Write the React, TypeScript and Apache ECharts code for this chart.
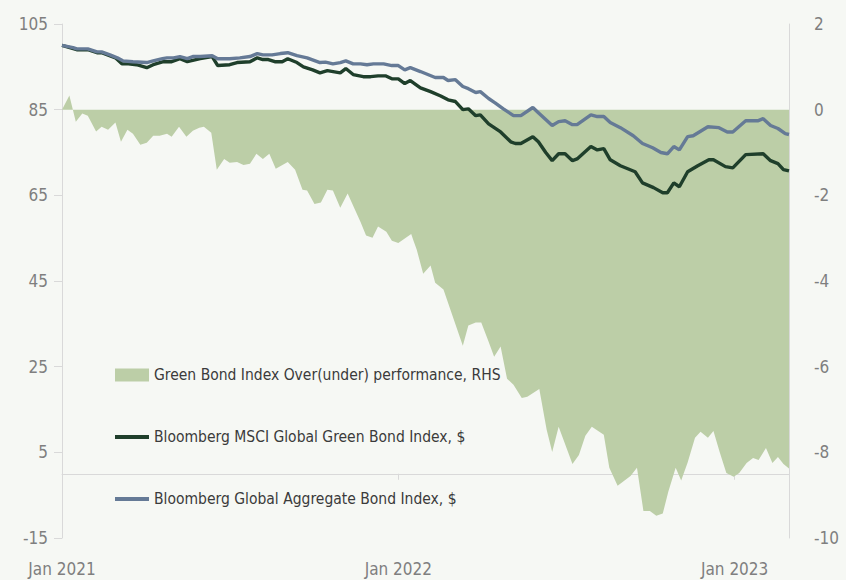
import React, { useEffect, useRef } from 'react';
import * as echarts from 'echarts';

const FONT = "'Liberation Sans Narrow', 'DejaVu Sans Condensed', 'Roboto', sans-serif";

const seriesNames = [
  'Green Bond Index Over(under) performance, RHS',
  'Bloomberg MSCI Global Green Bond Index, $',
  'Bloomberg Global Aggregate Bond Index, $',
];

const yearLabelDates = ['2021-01-01', '2022-01-01', '2023-01-01'];
const zeroTickDates = ['2022-01-01', '2023-01-01'];
const xRange = ['2021-01-01', '2023-03-01'];

// Relative performance (RHS), %
const relPerf: [string, number][] = [
  ['2021-01-01', 0], ['2021-01-09', 0.33], ['2021-01-16', -0.28], ['2021-01-23', -0.09],
  ['2021-01-29', -0.14], ['2021-02-07', -0.51], ['2021-02-13', -0.4], ['2021-02-20', -0.47],
  ['2021-02-28', -0.3], ['2021-03-06', -0.75], ['2021-03-13', -0.47], ['2021-03-19', -0.56],
  ['2021-03-27', -0.82], ['2021-04-03', -0.77], ['2021-04-10', -0.61], ['2021-04-17', -0.61],
  ['2021-04-25', -0.56], ['2021-04-30', -0.63], ['2021-05-08', -0.4], ['2021-05-16', -0.63],
  ['2021-05-23', -0.49], ['2021-05-30', -0.42], ['2021-06-04', -0.4], ['2021-06-12', -0.54],
  ['2021-06-18', -1.4], ['2021-06-26', -1.15], ['2021-07-02', -1.24], ['2021-07-10', -1.22],
  ['2021-07-17', -1.29], ['2021-07-24', -1.26], ['2021-07-31', -1.03], ['2021-08-07', -1.15],
  ['2021-08-14', -1.03], ['2021-08-21', -1.38], ['2021-09-03', -1.22], ['2021-09-11', -1.4],
  ['2021-09-19', -1.87], ['2021-09-24', -1.89], ['2021-10-02', -2.2], ['2021-10-09', -2.17],
  ['2021-10-16', -1.87], ['2021-10-22', -1.89], ['2021-10-30', -2.29], ['2021-11-07', -1.96],
  ['2021-11-21', -2.62], ['2021-11-27', -2.94], ['2021-12-04', -2.99], ['2021-12-10', -2.73],
  ['2021-12-19', -2.85], ['2021-12-25', -3.06], ['2022-01-01', -3.11], ['2022-01-08', -3.01],
  ['2022-01-15', -2.9], ['2022-01-17', -3.03], ['2022-01-21', -3.27], ['2022-01-28', -3.83],
  ['2022-02-05', -3.64], ['2022-02-10', -4.04], ['2022-02-19', -4.2], ['2022-03-12', -5.51],
  ['2022-03-18', -5.04], ['2022-03-26', -4.97], ['2022-04-01', -4.97], ['2022-04-09', -5.42],
  ['2022-04-15', -5.77], ['2022-04-22', -5.53], ['2022-04-29', -6.28], ['2022-05-06', -6.42],
  ['2022-05-15', -6.73], ['2022-05-21', -6.7], ['2022-06-03', -6.52], ['2022-06-11', -7.47],
  ['2022-06-17', -7.99], ['2022-06-24', -7.4], ['2022-07-09', -8.27], ['2022-07-16', -8.06],
  ['2022-07-23', -7.61], ['2022-07-30', -7.4], ['2022-08-12', -7.59], ['2022-08-18', -8.36],
  ['2022-08-27', -8.78], ['2022-09-10', -8.55], ['2022-09-17', -8.36], ['2022-09-24', -9.37],
  ['2022-10-01', -9.37], ['2022-10-08', -9.48], ['2022-10-15', -9.43], ['2022-10-21', -8.92],
  ['2022-10-29', -8.36], ['2022-11-04', -8.66], ['2022-11-11', -8.24], ['2022-11-19', -7.66],
  ['2022-11-25', -7.52], ['2022-12-03', -7.66], ['2022-12-09', -7.5], ['2022-12-16', -8.01],
  ['2022-12-23', -8.48], ['2022-12-31', -8.57], ['2023-01-06', -8.48], ['2023-01-14', -8.25],
  ['2023-01-21', -8.13], ['2023-01-27', -8.18], ['2023-02-04', -7.9], ['2023-02-11', -8.25],
  ['2023-02-17', -8.11], ['2023-02-23', -8.27], ['2023-03-01', -8.38],
];

// Bloomberg MSCI Global Green Bond Index, $ (LHS)
const greenBond: [string, number][] = [
  ['2021-01-01', 100], ['2021-01-17', 99.0], ['2021-01-29', 99.0], ['2021-02-08', 98.3],
  ['2021-02-13', 98.3], ['2021-02-28', 97.1], ['2021-03-07', 95.7], ['2021-03-14', 95.7],
  ['2021-03-23', 95.5], ['2021-04-03', 94.8], ['2021-04-10', 95.5], ['2021-04-21', 96.2],
  ['2021-04-30', 96.2], ['2021-05-09', 96.9], ['2021-05-17', 96.2], ['2021-05-31', 96.9],
  ['2021-06-13', 97.4], ['2021-06-19', 95.3], ['2021-07-02', 95.5], ['2021-07-10', 96.0],
  ['2021-07-24', 96.2], ['2021-08-01', 97.1], ['2021-08-07', 96.7], ['2021-08-13', 96.7],
  ['2021-08-20', 96.2], ['2021-08-28', 96.2], ['2021-09-03', 96.9], ['2021-09-13', 96.0],
  ['2021-09-20', 95.0], ['2021-09-30', 94.3], ['2021-10-08', 93.6], ['2021-10-16', 94.1],
  ['2021-10-30', 93.6], ['2021-11-05', 94.6], ['2021-11-13', 93.2], ['2021-11-24', 92.7],
  ['2021-12-02', 92.7], ['2021-12-10', 92.9], ['2021-12-18', 92.9], ['2021-12-25', 92.2],
  ['2022-01-01', 92.2], ['2022-01-08', 91.1], ['2022-01-14', 91.8], ['2022-01-25', 90.1],
  ['2022-02-05', 89.2], ['2022-02-16', 88.2], ['2022-02-24', 87.3], ['2022-03-04', 86.9],
  ['2022-03-12', 85.0], ['2022-03-18', 85.2], ['2022-03-26', 83.6], ['2022-03-31', 83.8],
  ['2022-04-09', 81.7], ['2022-04-22', 79.8], ['2022-05-03', 77.5], ['2022-05-08', 77.1],
  ['2022-05-14', 77.1], ['2022-05-27', 78.7], ['2022-06-02', 77.5], ['2022-06-10', 75.0],
  ['2022-06-17', 73.1], ['2022-06-24', 74.7], ['2022-07-01', 74.7], ['2022-07-09', 73.1],
  ['2022-07-14', 73.5], ['2022-07-29', 76.4], ['2022-08-05', 75.6], ['2022-08-12', 75.9],
  ['2022-08-19', 73.3], ['2022-08-30', 71.9], ['2022-09-15', 70.5], ['2022-09-23', 67.9],
  ['2022-10-05', 66.8], ['2022-10-15', 65.6], ['2022-10-20', 65.6], ['2022-10-27', 67.9],
  ['2022-11-02', 67.0], ['2022-11-11', 70.5], ['2022-11-22', 71.9], ['2022-12-04', 73.3],
  ['2022-12-09', 73.3], ['2022-12-22', 71.7], ['2022-12-30', 71.4], ['2023-01-13', 74.5],
  ['2023-02-01', 74.7], ['2023-02-09', 73.1], ['2023-02-17', 72.4], ['2023-02-23', 71.0],
  ['2023-03-01', 70.7],
];

// Bloomberg Global Aggregate Bond Index, $ (LHS)
const globalAgg: [string, number][] = [
  ['2021-01-01', 100], ['2021-01-13', 99.5], ['2021-01-17', 99.2], ['2021-01-29', 99.2],
  ['2021-02-08', 98.5], ['2021-02-13', 98.5], ['2021-02-22', 97.8], ['2021-03-02', 97.1],
  ['2021-03-08', 96.4], ['2021-03-19', 96.2], ['2021-04-03', 96.0], ['2021-04-10', 96.4],
  ['2021-04-20', 96.9], ['2021-04-25', 97.1], ['2021-05-02', 97.1], ['2021-05-09', 97.4],
  ['2021-05-17', 96.9], ['2021-05-23', 97.4], ['2021-05-31', 97.4], ['2021-06-13', 97.6],
  ['2021-06-19', 96.9], ['2021-07-02', 96.9], ['2021-07-13', 97.1], ['2021-07-24', 97.4],
  ['2021-08-01', 98.1], ['2021-08-07', 97.8], ['2021-08-17', 97.8], ['2021-08-26', 98.1],
  ['2021-09-03', 98.3], ['2021-09-13', 97.6], ['2021-09-24', 97.1], ['2021-10-08', 96.0],
  ['2021-10-14', 96.1], ['2021-10-22', 95.7], ['2021-10-30', 96.0], ['2021-11-05', 96.4],
  ['2021-11-13', 95.7], ['2021-11-21', 95.7], ['2021-11-28', 95.5], ['2021-12-05', 95.7],
  ['2021-12-16', 95.7], ['2021-12-25', 95.3], ['2022-01-01', 95.3], ['2022-01-08', 94.3],
  ['2022-01-14', 94.8], ['2022-01-25', 93.9], ['2022-02-10', 92.5], ['2022-02-19', 92.5],
  ['2022-02-24', 91.8], ['2022-03-04', 92.0], ['2022-03-12', 90.4], ['2022-03-18', 89.9],
  ['2022-03-26', 89.0], ['2022-03-31', 89.2], ['2022-04-09', 87.6], ['2022-04-16', 86.6],
  ['2022-04-25', 85.2], ['2022-05-06', 83.6], ['2022-05-14', 83.6], ['2022-05-27', 85.5],
  ['2022-06-02', 84.3], ['2022-06-17', 81.3], ['2022-06-24', 82.2], ['2022-07-01', 82.4],
  ['2022-07-09', 81.5], ['2022-07-14', 81.5], ['2022-07-29', 83.8], ['2022-08-05', 83.4],
  ['2022-08-12', 83.4], ['2022-08-19', 82.0], ['2022-08-30', 80.8], ['2022-09-13', 78.9],
  ['2022-09-23', 77.1], ['2022-10-04', 76.1], ['2022-10-13', 75.0], ['2022-10-20', 74.7],
  ['2022-10-27', 76.4], ['2022-11-02', 75.6], ['2022-11-11', 78.7], ['2022-11-17', 78.9],
  ['2022-12-03', 81.0], ['2022-12-15', 80.8], ['2022-12-24', 79.8], ['2022-12-30', 79.8],
  ['2023-01-13', 82.4], ['2023-01-26', 82.4], ['2023-02-01', 82.9], ['2023-02-09', 81.3],
  ['2023-02-17', 80.6], ['2023-02-25', 79.4], ['2023-03-01', 79.2],
];

const ts = (s: string) => {
  const [y, m, d] = s.split('-').map(Number);
  return Date.UTC(y, m - 1, d);
};

const toPoints = (arr: [string, number][]) => arr.map(([d, v]) => [ts(d), v]);

const COLORS = {
  bg: '#f6f8f4',
  area: '#bccea7',
  green: '#1f3f2b',
  blue: '#657a96',
  axis: '#d9d9d9',
  label: '#7f7f7f',
  legend: '#3b3b3b',
};

const LINE_ICON = 'path://M0,0L36,0L36,4L0,4Z';

export default function App() {
  const ref = useRef<HTMLDivElement>(null);

  useEffect(() => {
    document.body.style.margin = '0';
    document.body.style.overflow = 'hidden';
    if (!ref.current) return;
    const chart = echarts.init(ref.current, undefined, { renderer: 'svg' });
    const xMin = ts(xRange[0]);
    const xMax = ts(xRange[1]);
    chart.setOption({
      animation: false,
      backgroundColor: COLORS.bg,
      textStyle: { fontFamily: FONT },
      grid: { left: 62, right: 57, top: 24, bottom: 42, containLabel: false },
      legend: {
        orient: 'vertical',
        left: 115,
        top: 365,
        padding: 0,
        itemGap: 42,
        itemWidth: 34,
        itemHeight: 13,
        symbolKeepAspect: true,
        textStyle: { fontFamily: FONT, fontSize: 15.5, lineHeight: 20, color: COLORS.legend },
        data: [
          { name: seriesNames[0], icon: 'rect' },
          { name: seriesNames[1], icon: LINE_ICON },
          { name: seriesNames[2], icon: LINE_ICON },
        ],
      },
      xAxis: [
        {
          type: 'value',
          min: xMin,
          max: xMax,
          position: 'bottom',
          axisLine: { show: true, onZero: true, onZeroAxisIndex: 0, lineStyle: { color: COLORS.axis, width: 1 } },
          axisTick: {
            show: true,
            length: 6,
            lineStyle: { color: COLORS.axis },
            customValues: zeroTickDates.map(ts),
          },
          axisLabel: { show: false },
          splitLine: { show: false },
        },
        {
          type: 'value',
          min: xMin,
          max: xMax,
          position: 'bottom',
          axisLine: { show: false, onZero: false },
          axisTick: { show: false },
          splitLine: { show: false },
          axisLabel: {
            show: true,
            margin: 22,
            fontSize: 17,
            fontFamily: FONT,
            color: COLORS.label,
            customValues: yearLabelDates.map(ts),
            formatter: (v: number) => 'Jan ' + new Date(v).getUTCFullYear(),
          },
        },
      ],
      yAxis: [
        {
          type: 'value',
          min: -15,
          max: 105,
          interval: 20,
          position: 'left',
          axisLine: { show: true, lineStyle: { color: COLORS.axis } },
          axisTick: { show: true, length: 8, lineStyle: { color: COLORS.axis } },
          splitLine: { show: false },
          axisLabel: { margin: 14, fontSize: 17, fontFamily: FONT, color: COLORS.label },
        },
        {
          type: 'value',
          min: -10,
          max: 2,
          interval: 2,
          position: 'right',
          axisLine: { show: true, lineStyle: { color: COLORS.axis } },
          axisTick: { show: false },
          splitLine: { show: false },
          axisLabel: { margin: 25, fontSize: 17, fontFamily: FONT, color: COLORS.label },
        },
      ],
      series: [
        {
          name: seriesNames[0],
          type: 'line',
          xAxisIndex: 0,
          yAxisIndex: 1,
          data: toPoints(relPerf),
          symbol: 'none',
          color: COLORS.area,
          itemStyle: { color: COLORS.area },
          lineStyle: { width: 0, color: COLORS.area },
          areaStyle: { color: COLORS.area, opacity: 1 },
          z: 1,
        },
        {
          name: seriesNames[1],
          type: 'line',
          xAxisIndex: 0,
          yAxisIndex: 0,
          data: toPoints(greenBond),
          symbol: 'none',
          color: COLORS.green,
          lineStyle: { width: 3.4, color: COLORS.green },
          z: 3,
        },
        {
          name: seriesNames[2],
          type: 'line',
          xAxisIndex: 0,
          yAxisIndex: 0,
          data: toPoints(globalAgg),
          symbol: 'none',
          color: COLORS.blue,
          lineStyle: { width: 3.4, color: COLORS.blue },
          z: 4,
        },
      ],
    });
    return () => chart.dispose();
  }, []);

  return <div ref={ref} style={{ position: 'absolute', left: 0, top: 0, width: 846, height: 580 }} />;
}
